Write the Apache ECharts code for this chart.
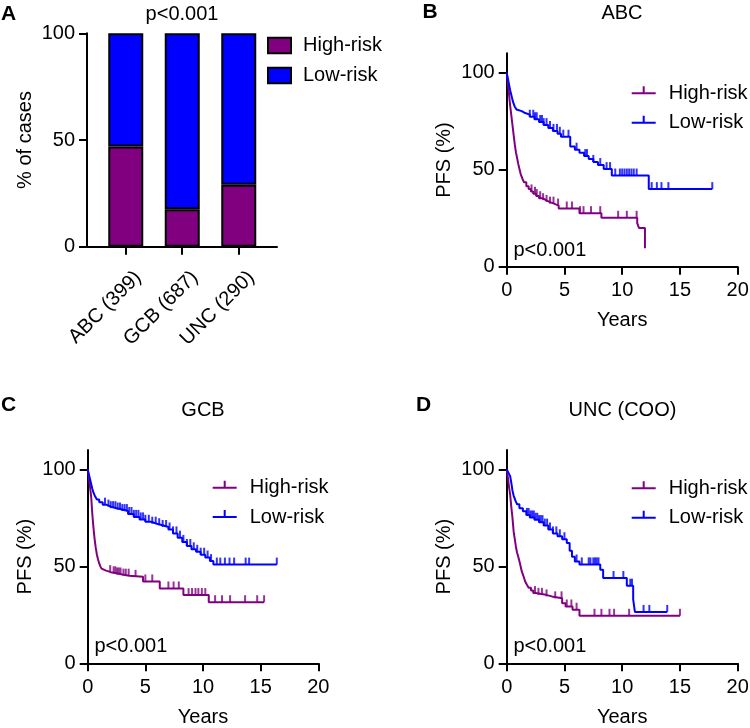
<!DOCTYPE html>
<html><head><meta charset="utf-8">
<script src="https://cdn.jsdelivr.net/npm/echarts@6/dist/echarts.min.js"></script>
<style>html,body{margin:0;padding:0;background:#fff}#c{width:750px;height:728px}</style>
</head><body><div id="c"></div>
<script>
const FONT = '"Liberation Sans", Arial, Helvetica, sans-serif';
const PURPLE = '#800080', BLUE = '#0000FF';

// ---- Panel A: stacked bars ----
const aCategories = ['ABC (399)', 'GCB (687)', 'UNC (290)'];
const aHighRisk = [47, 17.5, 29];
const aLowRisk = [53, 82.5, 71];
const aYTicks = [0, 50, 100];

// ---- KM axes ----
const kmXTicks = [0, 5, 10, 15, 20];
const kmYTicks = [0, 50, 100];

// ---- Panel B: ABC ----
const bHighT = [0, 0.1, 0.2, 0.3, 0.4, 0.5, 0.6, 0.7, 0.8, 0.9, 1.0, 1.1, 1.2, 1.35, 1.5, 1.7, 1.9, 2.1, 2.3, 2.55, 2.8, 3.1, 3.4, 3.7, 4.1, 4.5, 6.3, 8.2, 11.3, 11.45, 11.97];
const bHighS = [100, 95, 89, 83, 78, 73, 68, 63, 59, 56, 53, 50.5, 48, 45.5, 43.5, 41.5, 40, 38.8, 37.6, 36.4, 35.3, 34.3, 33.4, 32.5, 31.5, 30, 27.6, 25.2, 22.5, 20, 9.5];
const bHighC = [2.15, 2.45, 2.6, 2.9, 3.15, 3.45, 3.75, 4.05, 4.45, 5.2, 5.65, 6.35, 6.65, 7.3, 8.1, 9.65, 10.4, 11.25];
const bLowT = [0, 0.1, 0.2, 0.3, 0.4, 0.5, 0.6, 0.7, 0.85, 1.0, 1.3, 1.6, 2.0, 2.4, 2.8, 3.2, 3.6, 4.0, 4.4, 4.7, 5.5, 5.9, 6.3, 6.7, 7.1, 7.5, 7.9, 8.4, 9.1, 12.3, 17.8];
const bLowS = [100, 97, 94, 91, 88.5, 86, 84, 82.5, 81, 80.2, 79.2, 78.4, 77.3, 76, 74.6, 73, 71.5, 70, 68.5, 67, 62, 60.3, 58.7, 57, 55.5, 54, 52.4, 50.3, 47, 40, 40];
const bLowC = [2.0, 2.3, 2.45, 2.6, 2.9, 3.05, 3.2, 3.45, 3.75, 4.05, 4.35, 4.6, 4.9, 5.35, 6.05, 6.8, 6.95, 7.5, 8.1, 8.65, 8.95, 9.4, 9.8, 10.0, 10.2, 10.4, 10.6, 10.8, 11.0, 11.25, 12.55, 13.0, 13.4, 14.0, 17.8];

// ---- Panel C: GCB ----
const cHighT = [0, 0.1, 0.2, 0.3, 0.4, 0.5, 0.6, 0.7, 0.8, 0.9, 1.0, 1.1, 1.2, 1.35, 1.6, 2.0, 2.5, 3.0, 3.6, 4.8, 6.25, 8.3, 10.5, 15.3];
const cHighS = [100, 96, 91, 86, 77, 70, 64, 59.5, 56, 53.5, 51.5, 50, 48.8, 47.8, 47, 46.4, 45.8, 45.2, 44.6, 42.2, 38.6, 35.2, 31.5, 31.5];
const cHighC = [1.95, 2.25, 2.4, 2.55, 2.7, 2.85, 3.1, 3.3, 3.55, 4.15, 5.0, 5.6, 7.0, 7.45, 7.9, 8.75, 9.05, 9.35, 9.6, 9.9, 10.2, 11.05, 11.65, 12.35, 13.65, 14.7, 15.3];
const cLowT = [0, 0.1, 0.2, 0.3, 0.4, 0.5, 0.65, 0.8, 1.0, 1.3, 1.6, 2.0, 2.5, 3.0, 3.5, 4.0, 4.5, 5.0, 5.5, 6.0, 6.5, 7.0, 7.4, 7.8, 8.2, 8.6, 9.0, 9.4, 9.8, 10.2, 10.6, 10.9, 16.4];
const cLowS = [100, 97.5, 95, 92.5, 90, 88, 86, 84.5, 83, 81.8, 80.8, 80, 79.3, 78.5, 77, 75.5, 74.2, 73, 72, 71.2, 70.3, 69, 67, 64.8, 62.6, 60.5, 58.8, 57.5, 56, 54.5, 52.7, 50.9, 50.9];
const cLowC = [1.5, 1.8, 2.0, 2.2, 2.4, 2.6, 2.8, 3.0, 3.2, 3.4, 3.6, 3.8, 4.0, 4.2, 4.4, 4.6, 4.8, 5.0, 5.3, 5.6, 5.9, 6.2, 6.5, 6.8, 7.1, 7.4, 7.7, 8.0, 8.3, 8.6, 8.9, 9.2, 9.5, 9.8, 10.1, 10.4, 10.7, 11.2, 11.5, 11.9, 12.3, 12.7, 13.7, 14.0, 16.4];

// ---- Panel D: UNC (COO) ----
const dHighT = [0, 0.1, 0.2, 0.3, 0.4, 0.5, 0.6, 0.7, 0.8, 0.9, 1.0, 1.15, 1.3, 1.45, 1.6, 1.75, 1.9, 2.1, 2.3, 2.5, 3.4, 3.9, 4.8, 5.1, 5.7, 6.3, 15.0];
const dHighS = [100, 96, 91, 87, 80.5, 75, 68, 64, 60, 57, 55, 51.5, 47.5, 45, 42.2, 40.5, 39, 37.5, 36.2, 35.3, 34.5, 33.5, 31, 29.3, 27.6, 24.5, 24.5];
const dHighC = [2.45, 2.75, 3.05, 3.45, 4.2, 4.75, 5.2, 5.6, 6.05, 7.6, 8.2, 8.9, 9.3, 10.6, 15.0];
const dLowT = [0, 0.15, 0.3, 0.4, 0.5, 0.6, 0.75, 0.9, 1.1, 1.4, 1.7, 2.0, 2.4, 2.8, 3.2, 3.6, 4.0, 4.4, 4.8, 5.2, 5.45, 5.65, 5.9, 6.3, 8.1, 8.35, 10.4, 10.95, 11.1, 13.9];
const dLowS = [100, 98.3, 96.5, 93, 89, 86.5, 84, 82, 80, 78.4, 76.5, 75.2, 74, 72.8, 71, 69, 67, 65.5, 64, 62, 58, 55, 52.5, 51, 48.3, 44, 40, 33, 26.5, 26.5];
const dLowC = [1.75, 1.9, 2.05, 2.2, 2.35, 2.5, 2.65, 2.8, 2.95, 3.1, 3.3, 3.5, 3.75, 4.0, 4.3, 4.6, 5.0, 6.05, 6.5, 7.1, 7.25, 7.5, 7.65, 7.8, 7.95, 9.25, 10.1, 10.7, 10.85, 11.85, 12.35, 13.9];

const legendNames = { aHigh: 'High-risk', aLow: 'Low-risk', bHigh: 'High-risk', bLow: 'Low-risk', cHigh: 'High-risk', cLow: 'Low-risk', dHigh: 'High-risk', dLow: 'Low-risk' };

function zip(T, S) { return T.map((t, i) => [t, S[i]]); }
function survAt(T, S, t) { let v = S[0]; for (let i = 0; i < T.length; i++) { if (T[i] <= t) v = S[i]; else break; } return v; }
function censorPts(T, S, C) { return C.map(t => [t, survAt(T, S, t)]); }

const black = '#000';
const axLine = { show: true, onZero: false, lineStyle: { color: black, width: 2 } };
const labelStyle = { color: black, fontSize: 20, fontFamily: FONT };

function kmX(g) {
  return { gridIndex: g, type: 'value', min: 0, max: 20, interval: 5,
    axisLine: axLine,
    axisTick: { show: true, length: 8, lineStyle: { color: black, width: 2 } },
    axisLabel: Object.assign({ margin: 14 }, labelStyle),
    splitLine: { show: false },
    name: 'Years', nameLocation: 'middle', nameGap: 44, nameTextStyle: labelStyle };
}
function kmY(g) {
  return { gridIndex: g, type: 'value', min: 0, max: 110,
    axisLine: axLine,
    axisTick: { show: true, length: 8, customValues: kmYTicks, lineStyle: { color: black, width: 2 } },
    axisLabel: Object.assign({ margin: 12, customValues: kmYTicks }, labelStyle),
    splitLine: { show: false },
    name: 'PFS (%)', nameLocation: 'middle', nameGap: 52, nameRotate: 90, nameTextStyle: labelStyle };
}
function kmSeries(id, g, T, S, C, color) {
  return [
    { name: id, type: 'line', xAxisIndex: g, yAxisIndex: g, step: 'end', showSymbol: false, symbol: 'none',
      data: zip(T, S), color: color, lineStyle: { color: color, width: 2 }, z: 3, silent: true },
    { name: id + 'Cens', type: 'scatter', xAxisIndex: g, yAxisIndex: g, symbol: 'rect', symbolSize: [2, 7], symbolOffset: [0, -3.5],
      data: censorPts(T, S, C), itemStyle: { color: color }, z: 4, silent: true }
  ];
}
const tickIcon = 'path://M0,6H24V8H0Z M11,0H13V7H11Z M0,13.99H0.01V14H0Z';
function kmLegend(left, top, hi, lo) {
  return { left: left, top: top, orient: 'vertical', padding: 0, itemGap: 9.4, itemWidth: 24, itemHeight: 14,
    selectedMode: false, formatter: n => legendNames[n],
    itemStyle: { borderWidth: 0 },
    textStyle: Object.assign({ lineHeight: 20, padding: [0, 0, 0, 8] }, labelStyle),
    data: [{ name: hi, icon: tickIcon }, { name: lo, icon: tickIcon }] };
}

function txt(x, y, s, opts) {
  return { type: 'text', x: x, y: y, silent: true,
    style: Object.assign({ text: s, fill: black, font: '20px ' + FONT, align: 'left', verticalAlign: 'middle' }, opts || {}) };
}
const boldFont = 'bold 21px ' + FONT;

const option = {
  animation: false,
  backgroundColor: '#fff',
  textStyle: { fontFamily: FONT },
  grid: [
    { left: 87, top: 33.3, width: 190, height: 213.4, outerBoundsMode: 'none', containLabel: false },
    { left: 506.7, top: 53.3, width: 231, height: 213.4, outerBoundsMode: 'none', containLabel: false },
    { left: 87.7, top: 450, width: 230.6, height: 213.3, outerBoundsMode: 'none', containLabel: false },
    { left: 506.7, top: 450, width: 231, height: 213.3, outerBoundsMode: 'none', containLabel: false },
    // plotting band for the bars of panel A (category scale, axes hidden)
    { left: 97.5, top: 33.3, width: 169.5, height: 213.4, outerBoundsMode: 'none', containLabel: false }
  ],
  xAxis: [
    { gridIndex: 0, type: 'value', min: -0.68, max: 2.68,
      axisLine: axLine,
      axisTick: { show: true, length: 8, customValues: [0, 1, 2], lineStyle: { color: black, width: 2 } },
      axisLabel: Object.assign({ customValues: [0, 1, 2], formatter: v => aCategories[Math.round(v)], rotate: 45, align: 'right', verticalAlign: 'top', margin: 15, padding: [8, 0, 0, 0] }, labelStyle),
      splitLine: { show: false } },
    kmX(1), kmX(2), kmX(3),
    { gridIndex: 4, type: 'category', data: aCategories, show: false }
  ],
  yAxis: [
    { gridIndex: 0, type: 'value', min: 0, max: 100, interval: 50,
      axisLine: axLine,
      axisTick: { show: true, length: 8, lineStyle: { color: black, width: 2 } },
      axisLabel: Object.assign({ margin: 12 }, labelStyle),
      splitLine: { show: false },
      name: '% of cases', nameLocation: 'middle', nameGap: 52, nameRotate: 90, nameTextStyle: labelStyle },
    kmY(1), kmY(2), kmY(3),
    { gridIndex: 4, type: 'value', min: 0, max: 100, show: false, splitLine: { show: false } }
  ],
  legend: [
    { left: 267, top: 35.5, orient: 'vertical', padding: 0, itemGap: 10, itemWidth: 23, itemHeight: 15.6,
      selectedMode: false, formatter: n => legendNames[n],
      itemStyle: { borderColor: black, borderWidth: 2 },
      textStyle: Object.assign({ lineHeight: 20, padding: [0, 0, 0, 7] }, labelStyle),
      data: [{ name: 'aHigh', icon: 'rect' }, { name: 'aLow', icon: 'rect' }] },
    kmLegend(631.7, 83.3, 'bHigh', 'bLow'),
    kmLegend(212.7, 477.7, 'cHigh', 'cLow'),
    kmLegend(631.7, 478.3, 'dHigh', 'dLow')
  ],
  series: [
    { name: 'aHigh', type: 'bar', xAxisIndex: 4, yAxisIndex: 4, stack: 'a', barWidth: 35,
      data: aHighRisk, itemStyle: { color: PURPLE, borderColor: black, borderWidth: 2 }, silent: true },
    { name: 'aLow', type: 'bar', xAxisIndex: 4, yAxisIndex: 4, stack: 'a', barWidth: 35,
      data: aLowRisk, itemStyle: { color: BLUE, borderColor: black, borderWidth: 2 }, silent: true },
    ...kmSeries('bHigh', 1, bHighT, bHighS, bHighC, PURPLE),
    ...kmSeries('bLow', 1, bLowT, bLowS, bLowC, BLUE),
    ...kmSeries('cHigh', 2, cHighT, cHighS, cHighC, PURPLE),
    ...kmSeries('cLow', 2, cLowT, cLowS, cLowC, BLUE),
    ...kmSeries('dHigh', 3, dHighT, dHighS, dHighC, PURPLE),
    ...kmSeries('dLow', 3, dLowT, dLowS, dLowC, BLUE)
  ],
  graphic: { elements: [
    txt(1, 14.5, 'A', { font: boldFont }),
    txt(182, 14, 'p<0.001', { align: 'center' }),
    txt(422.5, 12, 'B', { font: boldFont }),
    txt(622, 13.5, 'ABC', { align: 'center' }),
    txt(513.5, 250, 'p<0.001'),
    txt(1, 405.5, 'C', { font: boldFont }),
    txt(203, 410, 'GCB', { align: 'center' }),
    txt(94.5, 646, 'p<0.001'),
    txt(416, 405, 'D', { font: boldFont }),
    txt(622.5, 410, 'UNC (COO)', { align: 'center' }),
    txt(513.5, 646, 'p<0.001')
  ] }
};

const chart = echarts.init(document.getElementById('c'), null, { renderer: 'canvas', width: 750, height: 728 });
chart.setOption(option);
</script>
</body></html>
